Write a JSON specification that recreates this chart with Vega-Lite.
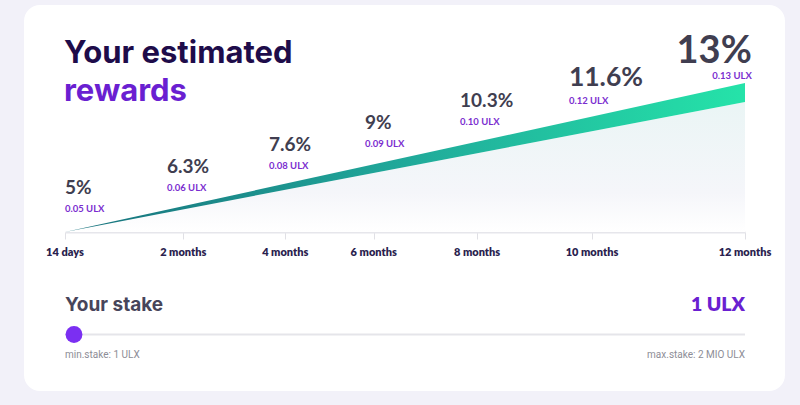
{
  "$schema": "https://vega.github.io/schema/vega-lite/v6.json",
  "width": 761,
  "height": 386,
  "autosize": {"type": "none"},
  "padding": {"left": 24, "top": 5, "right": 15, "bottom": 14},
  "background": "#f2f1f9",
  "config": {
    "view": {"stroke": null, "fill": "#ffffff", "cornerRadius": 16},
    "text": {"font": "Lato"}
  },
  "title": {
    "text": "Your estimated",
    "subtitle": "rewards",
    "anchor": "start",
    "frame": "group",
    "orient": "top",
    "offset": -103,
    "dx": 40,
    "font": "Inter",
    "fontSize": 31,
    "fontWeight": 700,
    "color": "#1e0c4a",
    "subtitleFont": "Inter",
    "subtitleFontSize": 31,
    "subtitleFontWeight": 700,
    "subtitleColor": "#6a1fd1",
    "subtitlePadding": 7
  },
  "datasets": {
    "terms": [
      {"term": "14 days", "tick": 0, "labelAt": 0, "rate": 0.05, "reward": 0.05},
      {"term": "2 months", "tick": 17.4, "labelAt": 15, "rate": 0.063, "reward": 0.06},
      {"term": "4 months", "tick": 32.4, "labelAt": 30, "rate": 0.076, "reward": 0.08},
      {"term": "6 months", "tick": 45.4, "labelAt": 44.1, "rate": 0.09, "reward": 0.09},
      {"term": "8 months", "tick": 60.6, "labelAt": 58.1, "rate": 0.103, "reward": 0.10},
      {"term": "10 months", "tick": 77.5, "labelAt": 74.1, "rate": 0.116, "reward": 0.12},
      {"term": "12 months", "tick": 100, "labelAt": 101, "rate": 0.13, "reward": 0.13}
    ],
    "wedge": [
      {"pos": 0, "upper": 0, "lower": 0},
      {"pos": 100, "upper": 0.13, "lower": 0.1134}
    ],
    "stake": [
      {"label": "Your stake", "stake": 1, "min": 1, "max": 2000000}
    ]
  },
  "layer": [
    {
      "layer": [
        {
          "data": {"name": "wedge"},
          "mark": {
            "type": "area",
            "color": {
              "gradient": "linear", "x1": 0, "y1": 0, "x2": 0, "y2": 1,
              "stops": [
                {"offset": 0, "color": "#eaf5f5"},
                {"offset": 0.7, "color": "#f5f6fa"},
                {"offset": 1, "color": "#ffffff"}
              ]
            }
          },
          "encoding": {
            "x": {
              "field": "pos", "type": "quantitative",
              "scale": {"domain": [0, 100], "range": [41, 721], "nice": false, "zero": false},
              "axis": {
                "values": [0, 17.4, 32.4, 45.4, 60.6, 77.5, 100],
                "labels": false, "title": null, "grid": false,
                "domainColor": "#e6e6eb", "domainWidth": 2,
                "tickColor": "#e0e0e5", "tickSize": 7, "tickWidth": 1,
                "offset": -159
              }
            },
            "y": {
              "field": "lower", "type": "quantitative",
              "scale": {"domain": [0, 0.13], "range": [227, 78], "nice": false, "zero": false},
              "axis": null
            },
            "y2": {"datum": 0}
          }
        },
        {
          "data": {"name": "wedge"},
          "mark": {
            "type": "area",
            "color": {
              "gradient": "linear", "x1": 0, "y1": 0, "x2": 1, "y2": 0,
              "stops": [
                {"offset": 0, "color": "#17707c"},
                {"offset": 0.5, "color": "#20a99a"},
                {"offset": 1, "color": "#25e3a9"}
              ]
            }
          },
          "encoding": {
            "x": {"field": "pos", "type": "quantitative"},
            "y": {"field": "upper", "type": "quantitative", "axis": null},
            "y2": {"field": "lower"}
          }
        },
        {
          "data": {"name": "terms"},
          "mark": {"type": "text", "align": "center", "baseline": "alphabetic", "dy": 24, "fontSize": 11, "fontWeight": 800, "color": "#2b1f4f"},
          "encoding": {
            "x": {"field": "tick", "type": "quantitative"},
            "y": {"datum": 0, "type": "quantitative", "axis": null},
            "text": {"field": "term"}
          }
        }
      ]
    },
    {
      "data": {"name": "terms"},
      "transform": [
        {"calculate": "format(datum.reward, '.2f') + ' ULX'", "as": "rewardLabel"}
      ],
      "encoding": {
        "x": {
          "field": "labelAt", "type": "quantitative",
          "scale": {"domain": [0, 100], "range": [41, 721], "nice": false, "zero": false},
          "axis": null
        },
        "y": {
          "field": "rate", "type": "quantitative",
          "scale": {"domain": [0.05, 0.13], "range": [189, 58], "nice": false, "zero": false},
          "axis": null
        }
      },
      "layer": [
        {
          "transform": [{"filter": "datum.rate < 0.13"}],
          "mark": {"type": "text", "align": "left", "baseline": "alphabetic", "fontWeight": 700, "color": "#403e50"},
          "encoding": {
            "text": {"field": "rate", "type": "quantitative", "format": ".1~%"},
            "size": {
              "field": "rate", "type": "quantitative",
              "scale": {"domain": [0.103, 0.116, 0.13], "range": [19, 26.5, 38], "clamp": true},
              "legend": null
            }
          }
        },
        {
          "transform": [{"filter": "datum.rate < 0.13"}],
          "mark": {"type": "text", "align": "left", "baseline": "alphabetic", "dy": 18, "fontSize": 9.5, "fontWeight": 700, "color": "#7a2dcf"},
          "encoding": {"text": {"field": "rewardLabel"}}
        },
        {
          "transform": [{"filter": "datum.rate >= 0.13"}],
          "mark": {"type": "text", "align": "right", "baseline": "alphabetic", "fontWeight": 700, "color": "#403e50"},
          "encoding": {
            "text": {"field": "rate", "type": "quantitative", "format": ".1~%"},
            "size": {"field": "rate", "type": "quantitative", "legend": null}
          }
        },
        {
          "transform": [{"filter": "datum.rate >= 0.13"}],
          "mark": {"type": "text", "align": "right", "baseline": "alphabetic", "dy": 16, "fontSize": 9.5, "fontWeight": 700, "color": "#7a2dcf"},
          "encoding": {"text": {"field": "rewardLabel"}}
        }
      ]
    },
    {
      "data": {"name": "stake"},
      "transform": [
        {"calculate": "format(datum.stake, ',d') + ' ULX'", "as": "current"},
        {"calculate": "'min.stake: ' + datum.min + ' ULX'", "as": "minText"},
        {"calculate": "'max.stake: ' + (datum.max / 1000000) + ' MIO ULX'", "as": "maxText"}
      ],
      "layer": [
        {
          "mark": {"type": "rule", "color": "#e5e5ea", "strokeWidth": 2},
          "encoding": {
            "x": {
              "field": "min", "type": "quantitative",
              "scale": {"domain": [1, 2000000], "range": [41, 721], "nice": false, "zero": false},
              "axis": null
            },
            "x2": {"field": "max"},
            "y": {
              "datum": "slider", "type": "nominal",
              "scale": {"type": "point", "domain": ["heading", "slider", "limits"], "range": [306, 353], "padding": 0},
              "axis": null
            }
          }
        },
        {
          "mark": {"type": "circle", "size": 283, "opacity": 1, "color": "#7b2ff2", "xOffset": 9},
          "encoding": {
            "x": {"field": "stake", "type": "quantitative"},
            "y": {"datum": "slider", "type": "nominal"}
          }
        },
        {
          "mark": {"type": "text", "align": "left", "baseline": "alphabetic", "font": "Inter", "fontSize": 19, "fontWeight": 700, "color": "#47455a"},
          "encoding": {
            "x": {"field": "min", "type": "quantitative"},
            "y": {"datum": "heading", "type": "nominal"},
            "text": {"field": "label"}
          }
        },
        {
          "mark": {"type": "text", "align": "right", "baseline": "alphabetic", "fontSize": 19.5, "fontWeight": 800, "color": "#6a1fd1"},
          "encoding": {
            "x": {"field": "max", "type": "quantitative"},
            "y": {"datum": "heading", "type": "nominal"},
            "text": {"field": "current"}
          }
        },
        {
          "mark": {"type": "text", "align": "left", "baseline": "alphabetic", "font": "Roboto", "fontSize": 10, "color": "#8d8d96"},
          "encoding": {
            "x": {"field": "min", "type": "quantitative"},
            "y": {"datum": "limits", "type": "nominal"},
            "text": {"field": "minText"}
          }
        },
        {
          "mark": {"type": "text", "align": "right", "baseline": "alphabetic", "font": "Roboto", "fontSize": 10, "color": "#8d8d96"},
          "encoding": {
            "x": {"field": "max", "type": "quantitative"},
            "y": {"datum": "limits", "type": "nominal"},
            "text": {"field": "maxText"}
          }
        }
      ]
    }
  ],
  "resolve": {"scale": {"x": "independent", "y": "independent", "size": "independent"}}
}
